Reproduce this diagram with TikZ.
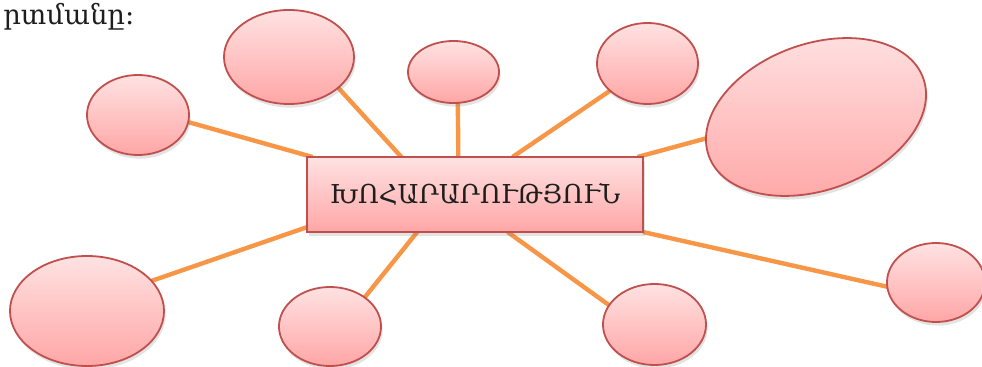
\documentclass[tikz,border=0pt]{standalone}
\usepackage{fontspec}
\setmainfont{DejaVu Serif}
\usetikzlibrary{shapes.geometric, backgrounds, shadows}
\usepackage{xcolor}
\definecolor{bubbleline}{RGB}{192,80,77}
\definecolor{bubbletop}{RGB}{255,226,226}
\definecolor{bubblebot}{RGB}{255,166,166}
\definecolor{spokecolor}{RGB}{247,150,70}
\definecolor{textgray}{RGB}{30,30,30}

\begin{document}
\begin{tikzpicture}[
    x=0.025cm, y=-0.025cm,
    bubble/.style={ellipse, draw=bubbleline, line width=0.45mm, inner sep=0pt,
                   outer sep=0pt, top color=bubbletop, bottom color=bubblebot,
                   drop shadow={opacity=0.22, shadow xshift=0.4mm, shadow yshift=-0.9mm}},
    topic/.style={bubble, rectangle, minimum width=8.4cm, minimum height=1.875cm,
                  font=\fontsize{18.5}{22}\selectfont, text=textgray},
    spoke/.style={draw=spokecolor, line width=1.1mm},
    caption/.style={font=\fontsize{19.5}{24}\selectfont, text=textgray, inner sep=0pt}
  ]
  \path[use as bounding box, clip] (0,0) rectangle (982,367);
  % caption cut at the top left
  \node[caption, anchor=base west] (cap) at (3,25) {րտմանը:};
  % centre
  \node[topic] (main) at (475,194.5) {ԽՈՀԱՐԱՐՈՒԹՅՈՒՆ};
  % upper bubbles
  \node[bubble, minimum width=2.55cm, minimum height=2.0cm] (b1) at (138,115) {};
  \node[bubble, minimum width=3.25cm, minimum height=2.35cm] (b2) at (289,57) {};
  \node[bubble, minimum width=2.275cm, minimum height=1.55cm] (b3) at (453.5,72) {};
  \node[bubble, minimum width=2.525cm, minimum height=2.025cm] (b4) at (647.5,63.5) {};
  \node[bubble, rotate=20, minimum width=5.7cm, minimum height=3.65cm] (b5) at (816,117) {};
  % lower bubbles
  \node[bubble, minimum width=2.45cm, minimum height=1.975cm] (b6) at (936,282.5) {};
  \node[bubble, minimum width=3.85cm, minimum height=2.75cm] (b7) at (87,311) {};
  \node[bubble, minimum width=2.55cm, minimum height=1.975cm] (b8) at (330,326.5) {};
  \node[bubble, minimum width=2.575cm, minimum height=2.025cm] (b9) at (654.5,324.5) {};
  % Spokes
  \begin{scope}[on background layer]
    \draw[spoke] (main.167)--(b1.-8);
    \draw[spoke] (main.153)--(b2.-32);
    \draw[spoke] (main.114)--(b3.-82);
    \draw[spoke] (main.45)--(b4.216);
    \draw[spoke] (main.13)--(b5.171);
    \draw[spoke] (main.south east)--(b6.185);
    \draw[spoke] (main.191)--(b7.25);
    \draw[spoke] (main.213)--(b8.40);
    \draw[spoke] (main.311)--(b9.157);
  \end{scope}
\end{tikzpicture}
\end{document}
